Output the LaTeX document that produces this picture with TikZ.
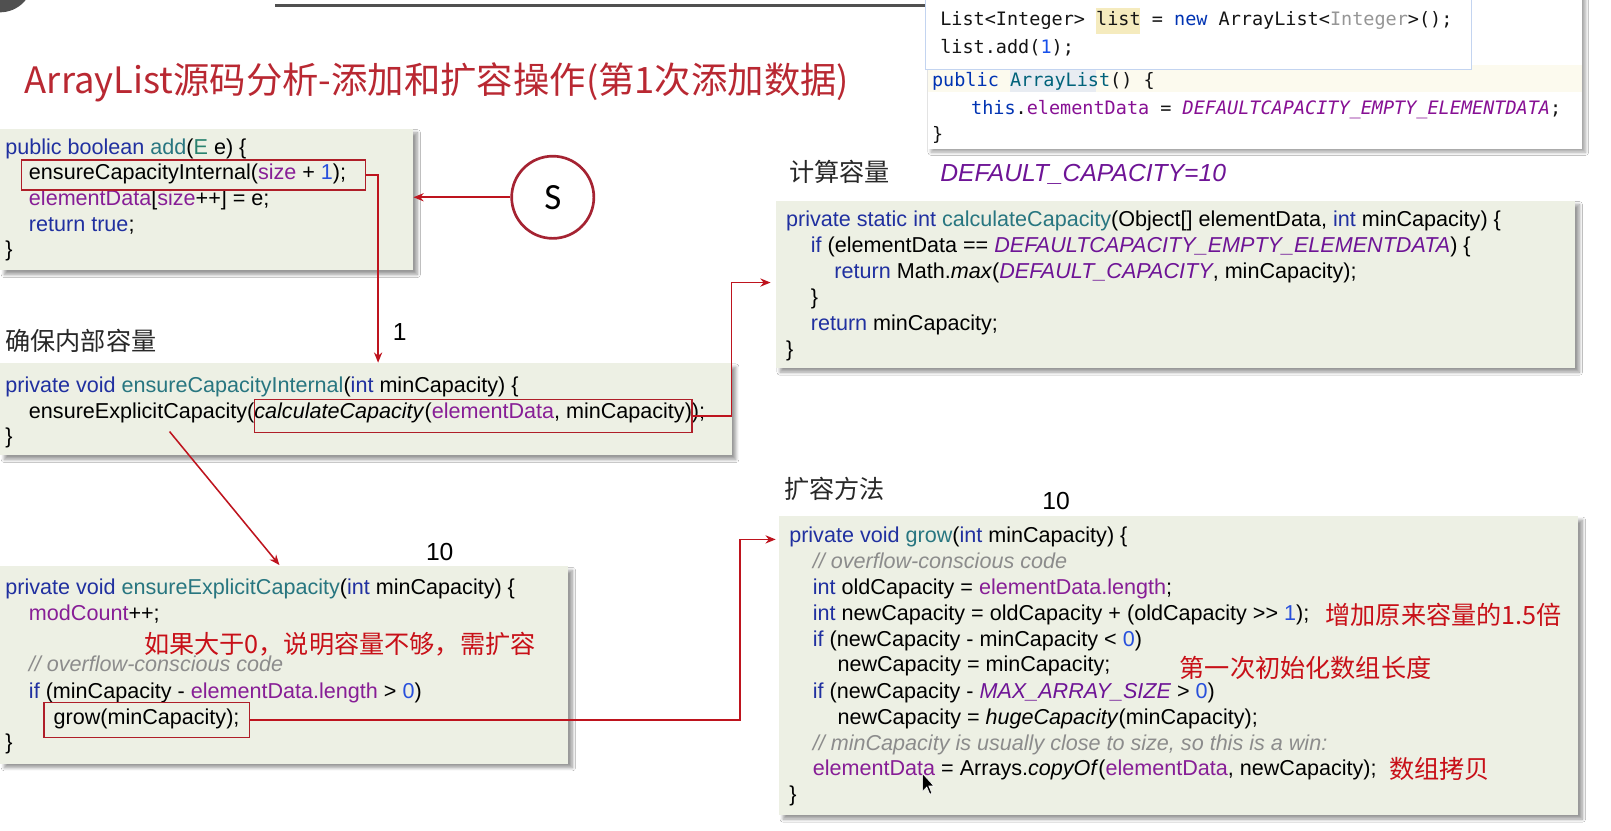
\documentclass[tikz,border=0pt]{standalone}
\usepackage{fontspec}
\setmainfont{Liberation Sans}
\newfontfamily\cjk{Noto Sans CJK SC}
\newfontfamily\monof{DejaVu Sans Mono}
\newfontfamily\carl{Carlito}
\usetikzlibrary{arrows.meta,shadows.blur,calc}
\definecolor{kw}{RGB}{32,48,160}
\definecolor{me}{RGB}{40,118,128}
\definecolor{fd}{RGB}{135,30,150}
\definecolor{nu}{RGB}{40,80,220}
\definecolor{cm}{RGB}{140,140,140}
\definecolor{ks}{RGB}{110,20,150}
\definecolor{ty}{RGB}{40,130,110}
\definecolor{anno}{RGB}{200,16,24}
\definecolor{arrred}{RGB}{190,20,30}
\definecolor{boxred}{RGB}{175,30,40}
\definecolor{circred}{RGB}{165,35,50}
\definecolor{titlered}{RGB}{185,40,50}
\definecolor{codebg}{RGB}{237,240,228}
\definecolor{headc}{RGB}{40,40,40}
\definecolor{mkw}{RGB}{0,51,179}
\definecolor{mme}{RGB}{0,98,122}
\definecolor{mfd}{RGB}{135,16,148}
\definecolor{mgr}{RGB}{150,150,150}
\definecolor{mnu}{RGB}{23,80,235}
\definecolor{mtx}{RGB}{20,20,20}
\definecolor{logogray}{RGB}{80,80,80}
\definecolor{popblue}{RGB}{195,212,240}
\definecolor{hlyel}{RGB}{245,235,190}
\definecolor{linehl}{RGB}{252,250,238}
\definecolor{declhl}{RGB}{232,236,242}
\newcommand\Kw[1]{\textcolor{kw}{#1}}
\newcommand\Me[1]{\textcolor{me}{#1}}
\newcommand\Fd[1]{\textcolor{fd}{#1}}
\newcommand\Nu[1]{\textcolor{nu}{#1}}
\newcommand\Cm[1]{\textcolor{cm}{\itshape #1}}
\newcommand\Ks[1]{\textcolor{ks}{\itshape #1}}
\begin{document}
\begin{tikzpicture}[x=1pt,y=-1pt,
  codebox/.style={fill=codebg, draw=none, anchor=north west, inner sep=0pt,
    blur shadow={shadow xshift=4pt, shadow yshift=-4pt, shadow blur radius=3pt, shadow blur steps=8, shadow opacity=40}},
  code/.style={anchor=base west, inner sep=0pt, font=\fontsize{21}{25}\selectfont, text=black},
  mono/.style={anchor=base west, inner sep=0pt, font=\monof\fontsize{18}{22}\selectfont, text=mtx},
  heading/.style={anchor=west, inner sep=0pt, font=\cjk\fontsize{24.5}{28}\selectfont, text=headc},
  annot/.style={anchor=west, inner sep=0pt, font=\cjk\fontsize{24.5}{28}\selectfont, text=anno},
  numlab/.style={anchor=center, inner sep=0pt, font=\fontsize{24}{28}\selectfont, text=black},
  redbox/.style={draw=boxred, line width=1.5pt, anchor=north west, inner sep=0pt},
  redarr/.style={draw=arrred, line width=1.5pt, -{Stealth[length=10pt,width=8pt]}}
]
\useasboundingbox (0,0) rectangle (1568,808);
\clip (0,0) rectangle (1568,808);
\fill[white] (0,0) rectangle (1568,808);

% logo fragment and top rule
\fill[logogray] (0,-20) circle (32);
\draw[logogray, line width=3pt] (268,5) -- (903,5);

% top-right IDE panel
\node[fill=white, anchor=north west, inner sep=0pt, minimum width=637pt, minimum height=160pt,
  blur shadow={shadow xshift=3pt, shadow yshift=-3pt, shadow blur radius=3pt, shadow blur steps=8, shadow opacity=35}] (panel) at (903,-15) {};
\fill[linehl] (903,63) rectangle (1540,90);
\fill[declhl] (983,66) rectangle (1067,90);
\node[fill=white, draw=popblue, line width=1pt, anchor=north west, inner sep=0pt, minimum width=532pt, minimum height=72pt] (popup) at (900,-5) {};
\fill[hlyel] (1067,8) rectangle (1110,33);
\node[mono] (m1) at (915,25) {List<Integer> list = \textcolor{mkw}{new} ArrayList<\textcolor{mgr}{Integer}>();};
\node[mono] (m2) at (915,52) {list.add(\textcolor{mnu}{1});};
\node[mono] (m3) at (907,84) {\textcolor{mkw}{public} \textcolor{mme}{ArrayList}() \{};
\node[mono] (m4) at (945,111) {\textcolor{mkw}{this}.\textcolor{mfd}{elementData} = \textcolor{mfd}{\itshape DEFAULTCAPACITY\_EMPTY\_ELEMENTDATA};};
\node[mono] (m5) at (907,137) {\}};

% title
\node[anchor=west, inner sep=0pt, font=\cjk\fontsize{35.4}{40}\selectfont, text=titlered] (title) at (24,80) {ArrayList源码分析-添加和扩容操作(第1次添加数据)};

% code boxes
\node[codebox, minimum width=402pt, minimum height=138pt] (b1) at (0,125) {};
\node[codebox, minimum width=712pt, minimum height=90pt] (b2) at (0,353) {};
\node[codebox, minimum width=778pt, minimum height=163pt] (b3) at (755,195) {};
\node[codebox, minimum width=553pt, minimum height=192pt] (b4) at (0,551) {};
\node[codebox, minimum width=778pt, minimum height=291pt] (b5) at (758,502) {};

% box 1
\node[code] (a1) at (5,150) {\Kw{public boolean} \Me{add}(\textcolor{ty}{E} e) \{};
\node[code] (a2) at (28,175) {ensureCapacityInternal(\Fd{size} + \Nu{1});};
\node[code] (a3) at (28,200) {\Fd{elementData}[\Fd{size}++] = e;};
\node[code] (a4) at (28,225) {\Kw{return true};};
\node[code] (a5) at (5,250) {\}};

% heading 2 + box 2
\node[heading] (h2) at (5,332) {确保内部容量};
\node[code] (c1) at (5,382) {\Kw{private void} \Me{ensureCapacityInternal}(\Kw{int} minCapacity) \{};
\node[code] (c2) at (28,407) {ensureExplicitCapacity(\textit{calculateCapacity}(\Fd{elementData}, minCapacity));};
\node[code] (c3) at (5,432) {\}};

% heading 3 + box 3
\node[heading] (h3) at (768,167) {计算容量};
\node[anchor=west, inner sep=0pt, font=\itshape\fontsize{24}{28}\selectfont, text=ks] (dc) at (915,170) {DEFAULT\_CAPACITY=10};
\node[code] (d1) at (765,220) {\Kw{private static int} \Me{calculateCapacity}(Object[] elementData, \Kw{int} minCapacity) \{};
\node[code] (d2) at (789,246) {\Kw{if} (elementData == \Ks{DEFAULTCAPACITY\_EMPTY\_ELEMENTDATA}) \{};
\node[code] (d3) at (812,271) {\Kw{return} Math.\textit{max}(\Ks{DEFAULT\_CAPACITY}, minCapacity);};
\node[code] (d4) at (789,296) {\}};
\node[code] (d5) at (789,322) {\Kw{return} minCapacity;};
\node[code] (d6) at (765,347) {\}};

% box 4
\node[code] (e1) at (5,579) {\Kw{private void} \Me{ensureExplicitCapacity}(\Kw{int} minCapacity) \{};
\node[code] (e2) at (28,604) {\Fd{modCount}++;};
\node[annot] (e3) at (140,627) {如果大于0，说明容量不够，需扩容};
\node[code] (e4) at (28,654) {\Cm{// overflow-conscious code}};
\node[code] (e5) at (28,680) {\Kw{if} (minCapacity - \Fd{elementData.length} > \Nu{0})};
\node[code] (e6) at (52,705) {grow(minCapacity);};
\node[code] (e7) at (5,729) {\}};

% heading 5 + box 5
\node[heading] (h5) at (763,476) {扩容方法};
\node[code] (f1) at (768,528) {\Kw{private void} \Me{grow}(\Kw{int} minCapacity) \{};
\node[code] (f2) at (791,553) {\Cm{// overflow-conscious code}};
\node[code] (f3) at (791,579) {\Kw{int} oldCapacity = \Fd{elementData.length};};
\node[code] (f4) at (791,604) {\Kw{int} newCapacity = oldCapacity + (oldCapacity >{}> \Nu{1});};
\node[annot] (f4a) at (1290,598) {增加原来容量的1.5倍};
\node[code] (f5) at (791,629) {\Kw{if} (newCapacity - minCapacity < \Nu{0})};
\node[code] (f6) at (815,654) {newCapacity = minCapacity;};
\node[annot] (f6a) at (1148,650) {第一次初始化数组长度};
\node[code] (f7) at (791,680) {\Kw{if} (newCapacity - \Ks{MAX\_ARRAY\_SIZE} > \Nu{0})};
\node[code] (f8) at (815,705) {newCapacity = \textit{hugeCapacity}(minCapacity);};
\node[code] (f9) at (791,730) {\Cm{// minCapacity is usually close to size, so this is a win:}};
\node[code] (f10) at (791,755) {\Fd{elementData} = Arrays.\textit{copyOf}(\Fd{elementData}, newCapacity);};
\node[annot] (f10a) at (1352,748) {数组拷贝};
\node[code] (f11) at (768,780) {\}};

% number labels
\node[numlab] (n1) at (389,323) {1};
\node[numlab] (n10a) at (428,537) {10};
\node[numlab] (n10b) at (1028,488) {10};

% red highlight boxes
\node[redbox, minimum width=335pt, minimum height=29pt] (rb1) at (20,155) {};
\node[redbox, minimum width=426pt, minimum height=32pt] (rb2) at (247,388) {};
\node[redbox, minimum width=200pt, minimum height=34pt] (rb3) at (42,683) {};

% S circle
\node[circle, draw=circred, line width=2.6pt, fill=white, minimum size=80pt, inner sep=0pt,
  font=\carl\fontsize{36}{40}\selectfont] (S) at (538,192) {S};

% connectors
\coordinate (k1) at (368,0);
\coordinate (k2) at (712,0);
\coordinate (k3) at (720,0);
\coordinate (t5) at (755,525);
\coordinate (t3) at (750,275);
\coordinate (ds) at (165,420);
\coordinate (de) at (272,550);
\draw[redarr] (S.west) -- (S.west -| b1.east);
\draw[redarr] (rb1.east) -| (k1 |- b2.north);
\draw[redarr] (rb2.east) -- (rb2.east -| k2) |- (t3);
\draw[redarr] (ds) -- (de);
\draw[redarr] (rb3.east) -- (rb3.east -| k3) |- (t5);

% mouse cursor
\filldraw[fill=black, draw=white, line width=0.6pt] (898,753) -- (898,770) -- (902,766) -- (905,773) -- (907,772) -- (904,765) -- (909,765) -- cycle;
\end{tikzpicture}
\end{document}
